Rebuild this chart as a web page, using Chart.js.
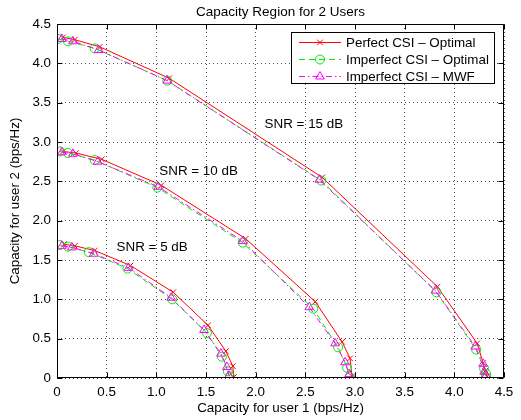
<!DOCTYPE html>
<html>
<head>
<meta charset="utf-8">
<script src="https://cdn.jsdelivr.net/npm/chart.js@4/dist/chart.umd.min.js"></script>
<style>
html,body{margin:0;padding:0;background:#fff;}
#wrap{width:521px;height:420px;}
</style>
</head>
<body>
<div id="wrap"><canvas id="c" width="521" height="420"></canvas></div>
<script>
// ---- data ----
const chartTitle = "Capacity Region for 2 Users";
const xLabel = "Capacity for user 1 (bps/Hz)";
const yLabel = "Capacity for user 2 (bps/Hz)";
const seriesNames = ["Perfect CSI \u2013 Optimal", "Imperfect CSI \u2013 Optimal", "Imperfect CSI \u2013 MWF"];
const xTicks = [0, 0.5, 1, 1.5, 2, 2.5, 3, 3.5, 4, 4.5];
const yTicks = [0, 0.5, 1, 1.5, 2, 2.5, 3, 3.5, 4, 4.5];

// SNR = 15 dB
const perf15X = [0.06, 0.18, 0.43, 1.13, 2.67, 3.83, 4.23, 4.29, 4.31, 4.33];
const perf15Y = [4.33, 4.30, 4.21, 3.81, 2.55, 1.16, 0.44, 0.19, 0.09, 0.02];
const imp15X  = [0.01, 0.11, 0.38, 1.11, 2.66, 3.82, 4.22, 4.30, 4.32, 4.32];
const imp15Y  = [4.31, 4.28, 4.19, 3.78, 2.51, 1.09, 0.36, 0.12, 0.05, 0.01];
const mwf15X  = [0.05, 0.16, 0.42, 1.11, 2.64, 3.81, 4.21, 4.29, 4.30, 4.32];
const mwf15Y  = [4.31, 4.28, 4.17, 3.78, 2.52, 1.11, 0.40, 0.18, 0.08, 0.03];

// SNR = 10 dB
const perf10X = [0.06, 0.19, 0.45, 1.05, 1.90, 2.60, 2.87, 2.95, 2.97];
const perf10Y = [2.88, 2.86, 2.78, 2.45, 1.77, 0.97, 0.46, 0.25, 0.02];
const imp10X  = [0.03, 0.11, 0.38, 1.01, 1.87, 2.58, 2.83, 2.92, 2.95];
const imp10Y  = [2.88, 2.86, 2.77, 2.42, 1.72, 0.88, 0.39, 0.13, 0.01];
const mwf10X  = [0.05, 0.16, 0.41, 1.02, 1.87, 2.54, 2.80, 2.90, 2.94];
const mwf10Y  = [2.87, 2.85, 2.75, 2.43, 1.74, 0.90, 0.44, 0.20, 0.05];

// SNR = 5 dB
const perf5X = [0.07, 0.18, 0.38, 0.74, 1.17, 1.52, 1.70, 1.77, 1.78];
const perf5Y = [1.70, 1.68, 1.62, 1.43, 1.09, 0.67, 0.34, 0.15, 0.01];
const imp5X  = [0.03, 0.11, 0.32, 0.71, 1.16, 1.51, 1.66, 1.72, 1.74];
const imp5Y  = [1.69, 1.67, 1.60, 1.39, 1.00, 0.57, 0.27, 0.085, 0.02];
const mwf5X  = [0.05, 0.15, 0.37, 0.72, 1.15, 1.48, 1.65, 1.71, 1.73];
const mwf5Y  = [1.68, 1.66, 1.58, 1.40, 1.02, 0.61, 0.31, 0.14, 0.03];

const snrTexts = ["SNR = 15 dB", "SNR = 10 dB", "SNR = 5 dB"];
const snrTextX = [2.09, 1.03, 0.60];
const snrTextY = [3.23, 2.63, 1.66];

// ---- styles ----
const FONT = "'Liberation Sans', Arial, Helvetica, sans-serif";
const LBL = 13.4;
const styles = [
  {color:'#ff0000', dash:[], pointStyle:'crossRot', radius:4, order:3},
  {color:'#00ee00', dash:[6,4], pointStyle:'circle', radius:4.5, order:2},
  {color:'#ff00ff', dash:[6,3,1.5,3], pointStyle:'triangle', radius:5, order:1}
];

function pts(xs, ys){ return xs.map((v,i)=>({x:v, y:ys[i]})); }
function makeDs(xs, ys, k){
  const s = styles[k];
  return {
    label: seriesNames[k],
    data: pts(xs, ys),
    borderColor: s.color,
    backgroundColor: 'rgba(0,0,0,0)',
    borderWidth: 1,
    borderDash: s.dash,
    pointStyle: s.pointStyle,
    pointRadius: s.radius,
    pointBorderColor: s.color,
    pointBackgroundColor: 'rgba(0,0,0,0)',
    pointBorderWidth: 1,
    tension: 0,
    fill: false,
    order: s.order,
    showLine: true
  };
}

const datasets = [
  makeDs(perf15X, perf15Y, 0), makeDs(imp15X, imp15Y, 1), makeDs(mwf15X, mwf15Y, 2),
  makeDs(perf10X, perf10Y, 0), makeDs(imp10X, imp10Y, 1), makeDs(mwf10X, mwf10Y, 2),
  makeDs(perf5X, perf5Y, 0),   makeDs(imp5X, imp5Y, 1),   makeDs(mwf5X, mwf5Y, 2)
];

function drawMarker(ctx, style, cx, cy, r, color){
  ctx.save();
  ctx.strokeStyle = color; ctx.lineWidth = 1; ctx.setLineDash([]);
  ctx.beginPath();
  if (style === 'crossRot'){
    const d = r*Math.SQRT1_2;
    ctx.moveTo(cx-d, cy-d); ctx.lineTo(cx+d, cy+d);
    ctx.moveTo(cx+d, cy-d); ctx.lineTo(cx-d, cy+d);
  } else if (style === 'circle'){
    ctx.arc(cx, cy, r, 0, Math.PI*2);
  } else {
    ctx.moveTo(cx, cy - r);
    ctx.lineTo(cx + r*Math.cos(Math.PI/6), cy + r*Math.sin(Math.PI/6));
    ctx.lineTo(cx - r*Math.cos(Math.PI/6), cy + r*Math.sin(Math.PI/6));
    ctx.closePath();
  }
  ctx.stroke();
  ctx.restore();
}

const framePlugin = {
  id: 'frame',
  afterDatasetsDraw(chart){
    const ctx = chart.ctx;
    const {left, right, top, bottom} = chart.chartArea;
    const xs = chart.scales.x, ys = chart.scales.y;
    ctx.save();
    ctx.setLineDash([]);
    ctx.strokeStyle = '#000';
    ctx.lineWidth = 1;
    const L = Math.round(left)+0.5, R = Math.round(right)-0.5, T = Math.round(top)+0.5, B = Math.round(bottom)-0.5;
    ctx.beginPath();
    ctx.rect(L, T, R-L, B-T);
    ctx.stroke();
    // inward ticks
    const tl = 5;
    ctx.beginPath();
    xTicks.forEach(v => {
      const px = Math.round(xs.getPixelForValue(v)) + 0.5;
      ctx.moveTo(px, B); ctx.lineTo(px, B - tl);
      ctx.moveTo(px, T); ctx.lineTo(px, T + tl);
    });
    yTicks.forEach(v => {
      const py = Math.round(ys.getPixelForValue(v)) + 0.5;
      ctx.moveTo(L, py); ctx.lineTo(L + tl, py);
      ctx.moveTo(R, py); ctx.lineTo(R - tl, py);
    });
    ctx.stroke();

    // SNR annotations
    ctx.fillStyle = '#000';
    ctx.font = LBL + 'px ' + FONT;
    ctx.textAlign = 'left';
    ctx.textBaseline = 'middle';
    snrTexts.forEach((t, i) => {
      ctx.fillText(t, xs.getPixelForValue(snrTextX[i]), ys.getPixelForValue(snrTextY[i]));
    });

    // legend box
    const lx = 291, ly = 32, lw = 203, lh = 51;
    ctx.fillStyle = '#fff';
    ctx.fillRect(lx+0.5, ly+0.5, lw, lh);
    ctx.strokeStyle = '#000';
    ctx.strokeRect(lx+0.5, ly+0.5, lw, lh);
    const rows = [42.5, 59.5, 76.5];
    for (let k = 0; k < 3; k++){
      const s = styles[k];
      const y = rows[k];
      ctx.save();
      ctx.strokeStyle = s.color;
      ctx.setLineDash(s.dash);
      ctx.beginPath();
      ctx.moveTo(299, y); ctx.lineTo(341, y);
      ctx.stroke();
      ctx.restore();
      drawMarker(ctx, s.pointStyle, 320, y, s.radius, s.color);
      ctx.fillStyle = '#000';
      ctx.font = LBL + 'px ' + FONT;
      ctx.textAlign = 'left';
      ctx.textBaseline = 'middle';
      ctx.fillText(seriesNames[k], 346, y + 0.5);
    }

    // title and axis labels
    ctx.fillStyle = '#000';
    ctx.textAlign = 'center';
    ctx.textBaseline = 'middle';
    ctx.font = '13.5px ' + FONT;
    ctx.fillText(chartTitle, (left+right)/2, 12);
    ctx.font = LBL + 'px ' + FONT;
    ctx.fillText(xLabel, (left+right)/2, 408);
    ctx.save();
    ctx.translate(15, (top+bottom)/2);
    ctx.rotate(-Math.PI/2);
    ctx.fillText(yLabel, 0, 0);
    ctx.restore();
    ctx.restore();
  }
};

new Chart(document.getElementById('c'), {
  type: 'scatter',
  data: { datasets },
  options: {
    responsive: false,
    animation: false,
    devicePixelRatio: 1,
    layout: { padding: { top: 24, right: 17, left: 0, bottom: 0 } },
    plugins: { legend: { display: false }, tooltip: { enabled: false }, title: { display: false } },
    scales: {
      x: {
        type: 'linear', min: 0, max: 4.5,
        afterFit(s){ s.height = 42; },
        afterBuildTicks(s){ s.ticks = xTicks.map(v => ({value: v})); },
        ticks: { padding: 6, color: '#000', font: { family: FONT, size: LBL }, maxRotation: 0, autoSkip: false },
        grid: { color: 'rgba(0,0,0,0.7)', lineWidth: 1, drawTicks: false },
        border: { display: false, dash: [1, 3] }
      },
      y: {
        type: 'linear', min: 0, max: 4.5,
        afterFit(s){ s.width = 57; },
        afterBuildTicks(s){ s.ticks = yTicks.map(v => ({value: v})); },
        ticks: { padding: 6, color: '#000', font: { family: FONT, size: LBL }, autoSkip: false },
        grid: { color: 'rgba(0,0,0,0.7)', lineWidth: 1, drawTicks: false },
        border: { display: false, dash: [1, 3] }
      }
    }
  },
  plugins: [framePlugin]
});
</script>
</body>
</html>
